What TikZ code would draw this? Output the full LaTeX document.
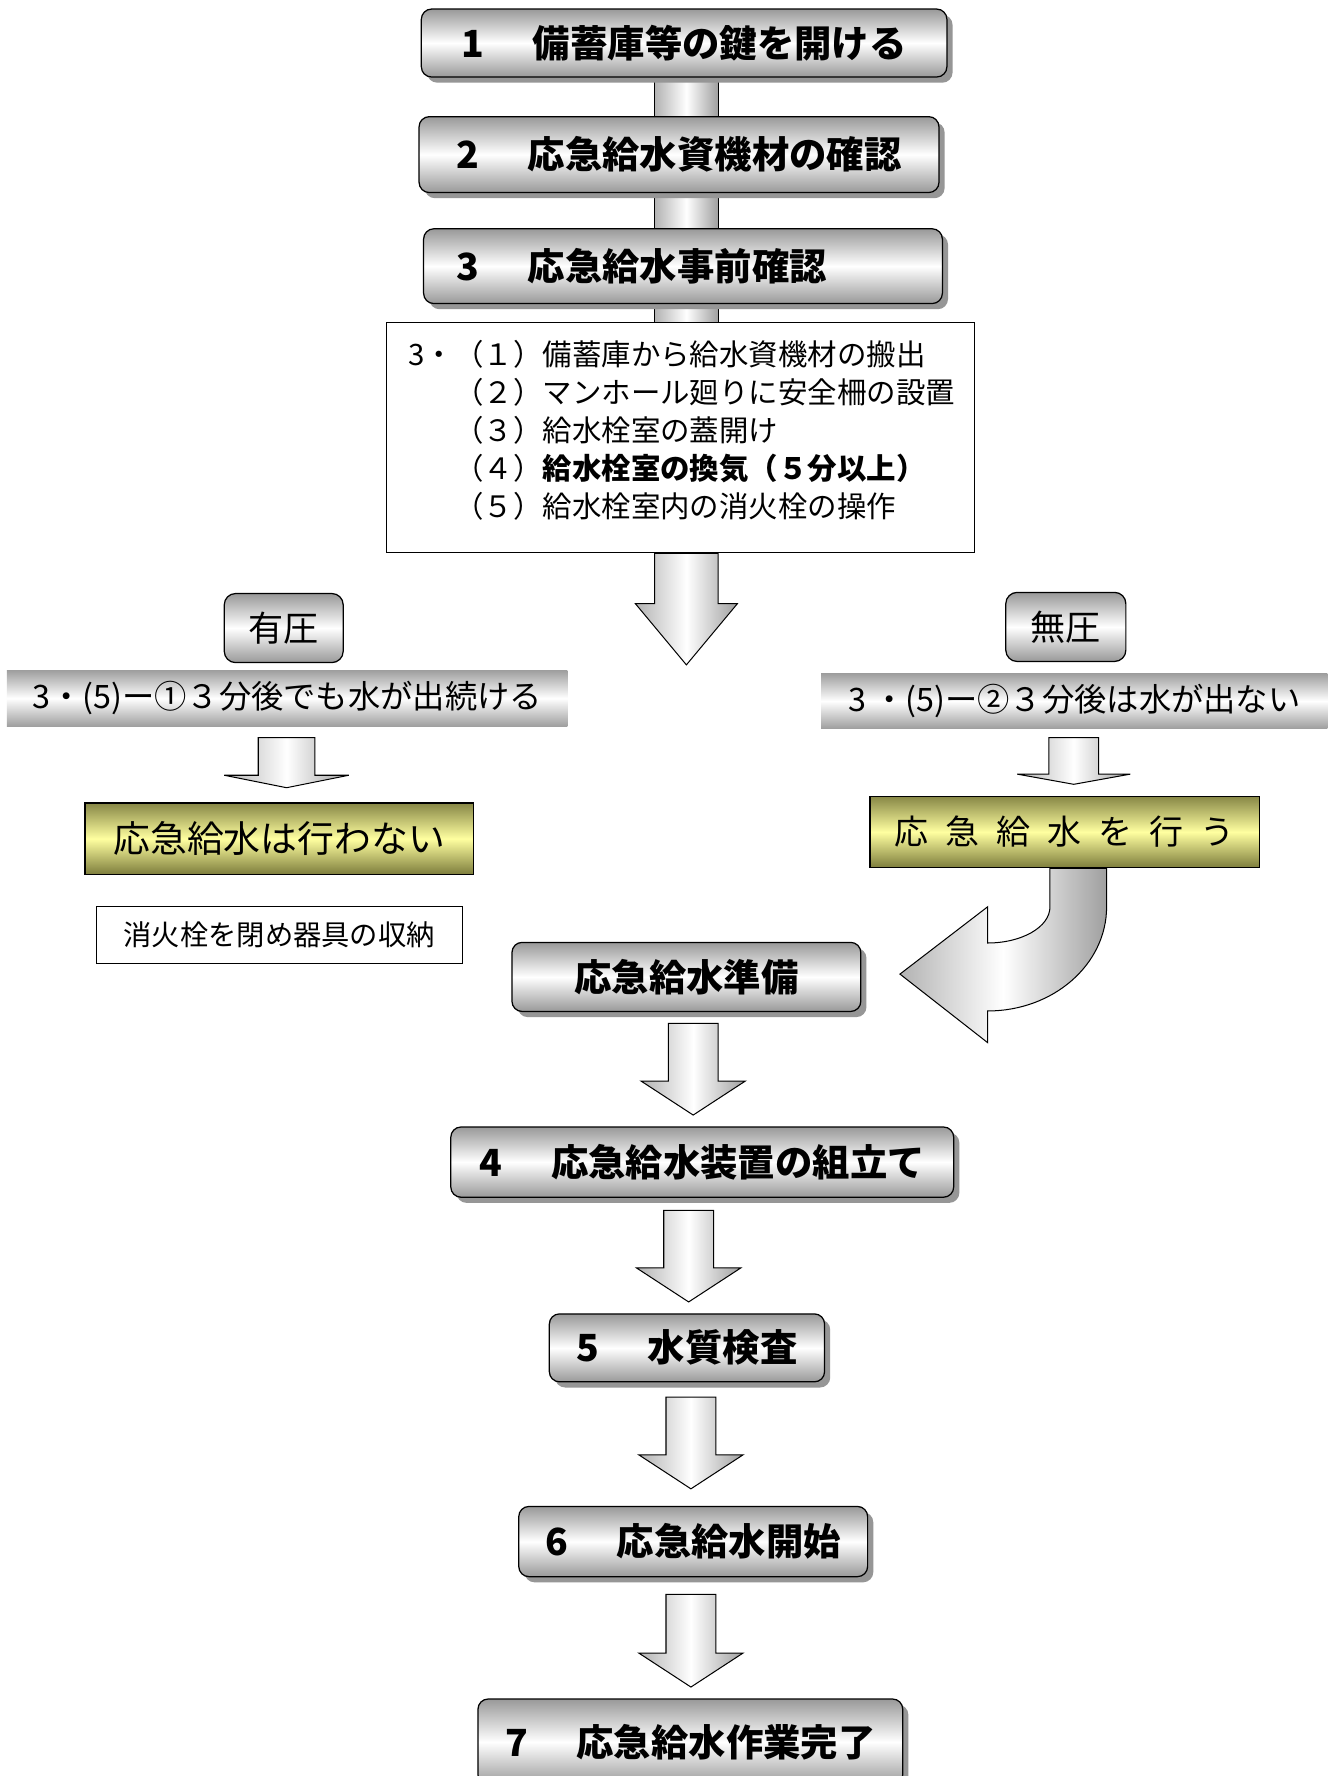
\documentclass[tikz,border=0pt]{standalone}
\usepackage{fontspec}
\newfontfamily\jp{Noto Sans CJK JP}
\usetikzlibrary{calc,shadows}
\pgfdeclarelayer{bg}
\pgfsetlayers{bg,main}
\definecolor{yeltop}{RGB}{135,135,70}
\definecolor{yelmid}{RGB}{255,255,160}
\definecolor{yelbot}{RGB}{125,125,60}
\definecolor{shd}{RGB}{150,150,150}
\tikzset{
 rbox/.style={draw=black, line width=1.1pt, rounded corners=9pt, top color=gray!80, bottom color=gray!80, middle color=white, inner sep=0pt, font=\jp\bfseries\fontsize{33}{38}\selectfont},
 shadowed/.style={drop shadow={shadow xshift=5pt, shadow yshift=-5pt, fill=shd, opacity=1}},
 pbox/.style={draw=black, line width=1.1pt, rounded corners=10pt, top color=gray!80, bottom color=gray!80, middle color=white, inner sep=0pt, font=\jp\fontsize{31}{36}\selectfont},
 band/.style={inner sep=0pt, top color=gray!75, bottom color=gray!75, middle color=white, font=\jp\fontsize{28.5}{32}\selectfont},
 ybox/.style={draw=black, line width=1.1pt, top color=yeltop, bottom color=yelbot, middle color=yelmid, inner sep=0pt, font=\jp\fontsize{32.5}{36}\selectfont},
 plainbox/.style={draw=black, line width=0.9pt, fill=white, inner sep=0pt},
 blk/.style={draw=black, line width=0.9pt, left color=gray!60, right color=gray!75, middle color=white},
}
\newcommand\blkarrow[5]{\draw[blk] let \p1=#1, \p2=#2 in (\x1-#3,\y1) -- (\x1+#3,\y1) -- (\x1+#3,\y2+#5) -- (\x1+#4,\y2+#5) -- (\x1,\y2) -- (\x1-#4,\y2+#5) -- (\x1-#3,\y2+#5) -- cycle;}
\begin{document}
\begin{tikzpicture}[x=1pt,y=-1pt]
\useasboundingbox (0,0) rectangle (1174,1568);
\clip (0,0) rectangle (1174,1568);
\begin{pgfonlayer}{bg}
\fill[white] (0,0) rectangle (1174,1568);
\end{pgfonlayer}

% main steps
\node[rbox, shadowed, minimum width=464pt, minimum height=60pt] (b1) at (604,38) {1\hspace{1.3em}備蓄庫等の鍵を開ける};
\node[rbox, shadowed, minimum width=459pt, minimum height=67pt] (b2) at (599.5,136.5) {2\hspace{1.3em}応急給水資機材の確認};
\node[rbox, shadowed, minimum width=458pt, minimum height=66pt, text width=400pt, align=left] (b3) at (603,235) {3\hspace{1.3em}応急給水事前確認};

% text box
\node[plainbox, minimum width=519pt, minimum height=203pt] (tb) at (600.5,386.5) {};
\node[anchor=north west, inner sep=0pt, align=left, font=\jp\fontsize{26}{33.5}\selectfont] (tbt) at ($(tb.north west)+(20,15.5)$) {3・（１）備蓄庫から給水資機材の搬出\\
\phantom{3・}（２）マンホール廻りに安全柵の設置\\
\phantom{3・}（３）給水栓室の蓋開け\\
\phantom{3・}（４）{\bfseries 給水栓室の換気（５分以上）}\\
\phantom{3・}（５）給水栓室内の消火栓の操作};

% branches
\node[pbox, minimum width=105pt, minimum height=61pt] (yu) at (250.5,554.5) {有圧};
\node[pbox, minimum width=106pt, minimum height=61pt] (mu) at (941,553.5) {無圧};
\node[band, minimum width=495pt, minimum height=49pt] (lband) at (253.5,616.5) {3・(5)ー①３分後でも水が出続ける};
\node[band, minimum width=447pt, minimum height=48pt] (rband) at (948.5,619) {3 ・(5)ー②３分後は水が出ない};
\node[ybox, minimum width=343pt, minimum height=63pt] (ly) at (246.5,740.5) {応急給水は行わない};
\node[ybox, minimum width=344pt, minimum height=63pt, font=\jp\fontsize{30}{36}\selectfont] (ry) at (940,734.5) {応\hspace{0.5em}急\hspace{0.5em}給\hspace{0.5em}水\hspace{0.5em}を\hspace{0.5em}行\hspace{0.5em}う};
\node[plainbox, minimum width=323pt, minimum height=51pt, font=\jp\fontsize{25}{30}\selectfont] (close) at (246.5,825.5) {消火栓を閉め器具の収納};

% lower steps
\node[rbox, shadowed, minimum width=308pt, minimum height=61pt] (prep) at (606,862.5) {応急給水準備};
\node[rbox, shadowed, minimum width=444pt, minimum height=62pt] (b4) at (620,1026) {4\hspace{1.3em}応急給水装置の組立て};
\node[rbox, shadowed, minimum width=243pt, minimum height=60pt] (b5) at (606.5,1190) {5\hspace{1.3em}水質検査};
\node[rbox, shadowed, minimum width=308pt, minimum height=62pt] (b6) at (612,1361) {6\hspace{1.3em}応急給水開始};
\node[rbox, shadowed, minimum width=375pt, minimum height=76pt] (b7) at (609.5,1538) {7\hspace{1.3em}応急給水作業完了};

% connector bar behind top boxes
\begin{pgfonlayer}{bg}
\draw[blk] let \p1=(b1.south), \p2=(tb.north) in (\x1-26,\y1+5) rectangle (\x1+30,\y2-2);
\end{pgfonlayer}

% block arrows
\coordinate (bigtip) at (606,587);
\blkarrow{($(tb.south)+(5.5,0)$)}{(bigtip)}{28}{45}{54}
\blkarrow{($(lband.south)+(-0.5,10)$)}{($(ly.north)+(0,-13)$)}{25}{55}{11}
\blkarrow{($(rband.south)+(-0.5,8)$)}{($(ry.north)+(0,-10)$)}{22}{50}{9}
\blkarrow{($(prep.south)+(6,10)$)}{($(b4.north)+(0,-10)$)}{22}{46}{30}
\blkarrow{($(b4.south)+(-12,11)$)}{($(b5.north)+(0,-10)$)}{22}{46}{30}
\blkarrow{($(b5.south)+(3.5,13)$)}{($(b6.north)+(0,-15)$)}{22}{46}{30}
\blkarrow{($(b6.south)+(-2,15)$)}{($(b7.north)+(0,-10)$)}{22}{46}{30}

% curved arrow from ry to prep
\draw[blk] let \p1=(ry.south), \p2=(prep.east) in
 (\x1-13,\y1) -- (\x1-13,\y1-34)
 .. controls (\x1-13,\y1-52) and (\x1-38,\y1-66) .. (\x1-68,\y1-66)
 -- (\x1-68,\y1-34) -- (\x2+34,\y2+2.5) -- (\x1-68,\y1-154) -- (\x1-68,\y1-126)
 .. controls (\x1-10,\y1-126) and (\x1+37,\y1-85) .. (\x1+37,\y1-34)
 -- (\x1+37,\y1) -- cycle;
\end{tikzpicture}
\end{document}
